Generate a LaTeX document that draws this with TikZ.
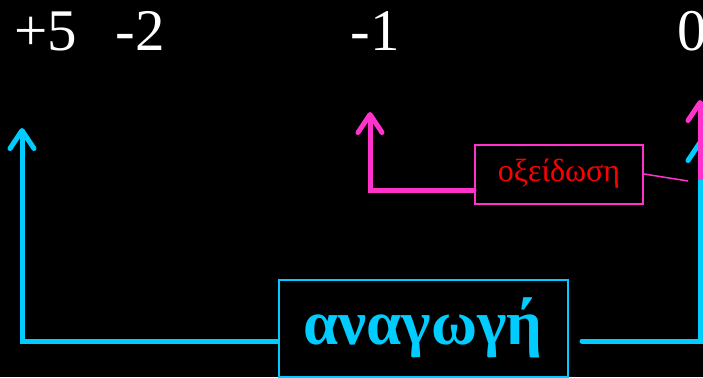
\documentclass[tikz,border=0pt]{standalone}
\usepackage{fontspec}
\setmainfont{Liberation Serif}
\usetikzlibrary{arrows.meta}
\definecolor{redcyan}{HTML}{00CCFF}
\definecolor{oxmagenta}{HTML}{FF33CC}
\definecolor{oxred}{HTML}{FF0000}
\begin{document}
\begin{tikzpicture}[
    x=1pt, y=-1pt,
    >={Straight Barb[length=18pt,width=24pt,round]},
    numtext/.style={text=white, font=\fontsize{59}{60}\selectfont, anchor=base, inner sep=0pt},
    thickline/.style={line width=5pt, line cap=round, line join=miter},
    redbox/.style={draw=redcyan, line width=2pt, minimum width=289pt, minimum height=97pt, inner sep=0pt,
                   text=redcyan, font=\bfseries\fontsize{63}{64}\selectfont},
    oxbox/.style={draw=oxmagenta, line width=2pt, minimum width=168pt, minimum height=59pt, inner sep=0pt,
                  text=oxred, font=\fontsize{32}{33}\selectfont}
]
  \fill[black] (0,0) rectangle (703,377);
  \useasboundingbox (0,0) rectangle (703,377);

  % oxidation numbers
  \node[numtext] (p5) at (46,51)  {+5};
  \node[numtext] (m2) at (140,51) {-2};
  \node[numtext] (m1) at (375,51) {-1};
  \node[numtext] (z0) at (692,51) {0};

  % boxes
  \node[redbox] (red) at (423,328) {\raisebox{-4pt}{αναγωγή}};
  \node[oxbox]  (ox)  at (559,174) {οξείδωση};

  % anchor points
  \coordinate (c1) at (22,128);
  \coordinate (c2) at (22,341);
  \coordinate (c3) at (582,341);
  \coordinate (c4) at (700,341);
  \coordinate (c5) at (700,140);
  \coordinate (o1) at (370,112);
  \coordinate (o2) at (370,190);
  \coordinate (o3) at (700,180);
  \coordinate (o4) at (700,100);
  \coordinate (o5) at (688,181);

  % reduction
  \draw[thickline, redcyan, ->] (red.west |- c2) -- (c2) -- (c1);
  \draw[thickline, redcyan, ->] (c3) -- (c4) -- (c5);

  % oxidation
  \draw[thickline, oxmagenta, ->] (ox.west |- o2) -- (o2) -- (o1);
  \draw[thickline, oxmagenta, ->, line cap=butt] (o3) -- (o4);
  \draw[oxmagenta, line width=1.5pt] (ox.east) -- (o5);
\end{tikzpicture}
\end{document}
